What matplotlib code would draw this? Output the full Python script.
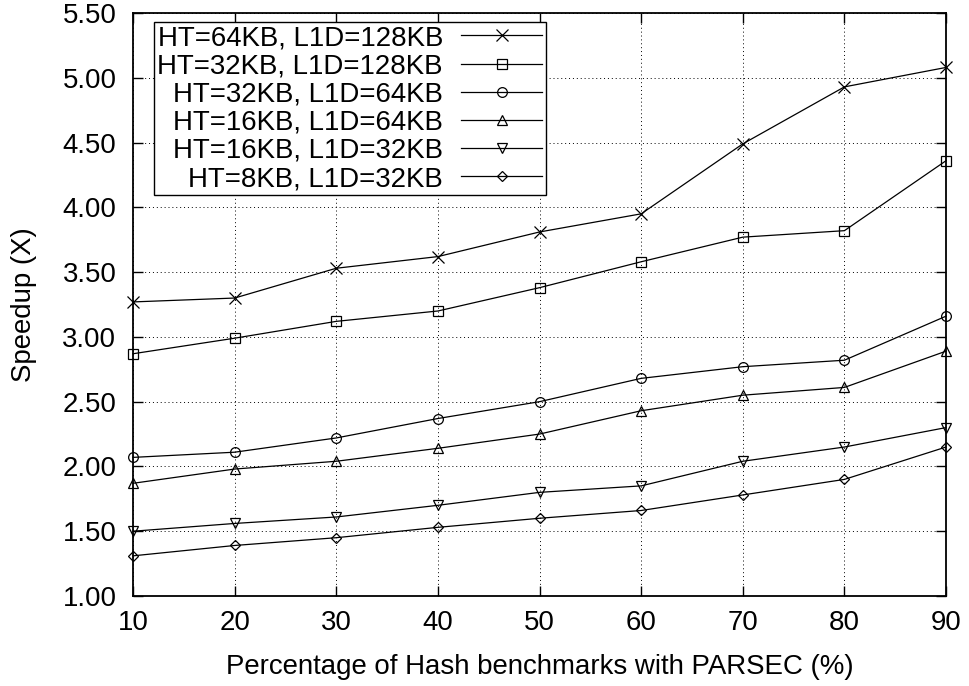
import matplotlib
matplotlib.use('Agg')
import matplotlib.pyplot as plt
import numpy as np

plt.rcParams['font.family'] = ['Liberation Sans', 'DejaVu Sans']

# x axis: share of hash benchmarks mixed with PARSEC (%)
pct = [10, 20, 30, 40, 50, 60, 70, 80, 90]

labels = ['HT=64KB, L1D=128KB', 'HT=32KB, L1D=128KB', 'HT=32KB, L1D=64KB',
          'HT=16KB, L1D=64KB', 'HT=16KB, L1D=32KB', 'HT=8KB, L1D=32KB']

ht64_l1d128 = [3.27, 3.30, 3.53, 3.62, 3.81, 3.95, 4.49, 4.93, 5.08]
ht32_l1d128 = [2.87, 2.99, 3.12, 3.20, 3.38, 3.58, 3.77, 3.82, 4.36]
ht32_l1d64 = [2.07, 2.11, 2.22, 2.37, 2.50, 2.68, 2.77, 2.82, 3.16]
ht16_l1d64 = [1.87, 1.98, 2.04, 2.14, 2.25, 2.43, 2.55, 2.61, 2.89]
ht16_l1d32 = [1.50, 1.56, 1.61, 1.70, 1.80, 1.85, 2.04, 2.15, 2.30]
ht8_l1d32 = [1.31, 1.39, 1.45, 1.53, 1.60, 1.66, 1.78, 1.90, 2.15]

series = [ht64_l1d128, ht32_l1d128, ht32_l1d64, ht16_l1d64, ht16_l1d32, ht8_l1d32]
markers = ['x', 's', 'o', '^', 'v', 'D']
msizes = [8, 7, 7, 7, 7, 5]

yticks = np.arange(1.0, 5.51, 0.5)

fs = 19.9
fig = plt.figure(figsize=(9.69, 6.86), dpi=100)
ax = fig.add_axes([0.1373, 0.1312, 0.8390, 0.8498])

for vals, lab, m, ms in zip(series, labels, markers, msizes):
    ax.plot(pct, vals, color='black', lw=0.9, marker=m, ms=ms,
            mfc='none', mec='black', mew=0.9, label=lab, clip_on=False, zorder=3)

ax.set_xlim(10, 90)
ax.set_ylim(1.0, 5.5)
ax.set_xticks(pct)
ax.set_yticks(yticks)
ax.set_yticklabels(['%.2f' % v for v in yticks])

ax.grid(True, color='black', linestyle=(0, (1, 3)), lw=0.7)
ax.set_axisbelow(True)

for s in ax.spines.values():
    s.set_linewidth(1.3)
ax.tick_params(direction='in', length=7, width=1.0, top=True, right=True,
               labelsize=fs)
ax.tick_params(axis='x', pad=10)
ax.tick_params(axis='y', pad=12)

ax.set_xlabel('Percentage of Hash benchmarks with PARSEC (%)', fontsize=fs, labelpad=13)
ax.set_ylabel('Speedup (X)', fontsize=fs, labelpad=18)

leg = ax.legend(loc='upper left', bbox_to_anchor=(0.026, 0.985), markerfirst=False,
                fontsize=fs, frameon=True, fancybox=False, framealpha=1,
                edgecolor='black', handlelength=2.95, handletextpad=0.65,
                labelspacing=0.08, borderpad=0.12, borderaxespad=0)
leg.get_frame().set_linewidth(1.0)

fig.savefig('out.png', dpi=100)
